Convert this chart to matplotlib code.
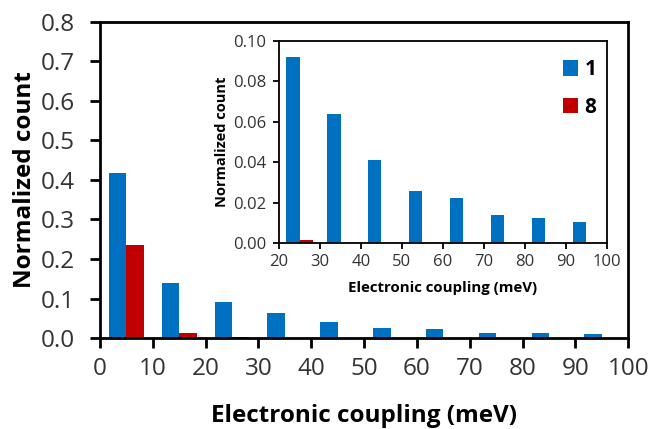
import matplotlib
matplotlib.use("Agg")
import matplotlib.pyplot as plt
import numpy as np

plt.rcParams['font.family'] = ['Open Sans', 'DejaVu Sans']

# Histogram of electronic couplings (10 meV bins)
bin_centers = [5, 15, 25, 35, 45, 55, 65, 75, 85, 95]
counts_1 = [0.418, 0.139, 0.092, 0.064, 0.041, 0.0255, 0.022, 0.014, 0.0125, 0.0105]
counts_8 = [0.235, 0.014, 0.0015, 0, 0, 0, 0, 0, 0, 0]
series_labels = ['1', '8']
colors = ['#0070C0', '#C00000']

main_yticks = [0.0, 0.1, 0.2, 0.3, 0.4, 0.5, 0.6, 0.7, 0.8]
main_xticks = [0, 10, 20, 30, 40, 50, 60, 70, 80, 90, 100]
inset_yticks = [0.00, 0.02, 0.04, 0.06, 0.08, 0.10]
inset_xticks = [20, 30, 40, 50, 60, 70, 80, 90, 100]

bar_w = 3.3
x = np.array(bin_centers, dtype=float)

fig = plt.figure(figsize=(6.49, 4.29), dpi=100)
ax = fig.add_axes([0.154, 0.212, 0.814, 0.737])

ax.bar(x - bar_w / 2, counts_1, width=bar_w, color=colors[0], label=series_labels[0])
ax.bar(x + bar_w / 2, counts_8, width=bar_w, color=colors[1], label=series_labels[1])
ax.set_xlim(0, 100)
ax.set_ylim(0, 0.8)
ax.set_xticks(main_xticks)
ax.set_yticks(main_yticks)
ax.set_yticklabels([f"{v:.1f}" for v in main_yticks])
ax.tick_params(direction='out', length=7, width=2, labelsize=17.5, colors='black',
               labelcolor='#333333')
ax.tick_params(axis='y', pad=11)
ax.tick_params(axis='x', pad=7)
for s in ax.spines.values():
    s.set_linewidth(2)
ax.set_xlabel('Electronic coupling (meV)', fontsize=17.5, fontweight='bold', labelpad=16)
ax.set_ylabel('Normalized count', fontsize=17.5, fontweight='bold', labelpad=3)

# Inset: zoom on the tail of the distribution
ins = fig.add_axes([0.430, 0.4336, 0.505, 0.4716])
mask = x > 20
ins.bar(x[mask] - bar_w / 2, np.array(counts_1)[mask], width=bar_w, color=colors[0],
        label=series_labels[0])
ins.bar(x[mask] + bar_w / 2, np.array(counts_8)[mask], width=bar_w, color=colors[1],
        label=series_labels[1])
ins.set_xlim(20, 100)
ins.set_ylim(0, 0.10)
ins.set_xticks(inset_xticks)
ins.set_yticks(inset_yticks)
ins.set_yticklabels([f"{v:.2f}" for v in inset_yticks])
ins.tick_params(direction='out', length=4, width=1.3, labelsize=12, labelcolor='#333333')
ins.tick_params(axis='y', pad=5)
ins.tick_params(axis='x', pad=4)
for s in ins.spines.values():
    s.set_linewidth(1.3)
ins.set_xlabel('Electronic coupling (meV)', fontsize=10.8, fontweight='bold', labelpad=8)
ins.set_ylabel('Normalized count', fontsize=10.5, fontweight='bold', labelpad=3)

leg = ins.legend(loc='upper right', bbox_to_anchor=(1.0, 0.96), frameon=False,
                 handlelength=0.75, handleheight=0.75, handletextpad=0.3,
                 labelspacing=0.8, borderaxespad=0.1,
                 prop={'size': 15, 'weight': 'bold'})

fig.savefig('out.png', dpi=100)
